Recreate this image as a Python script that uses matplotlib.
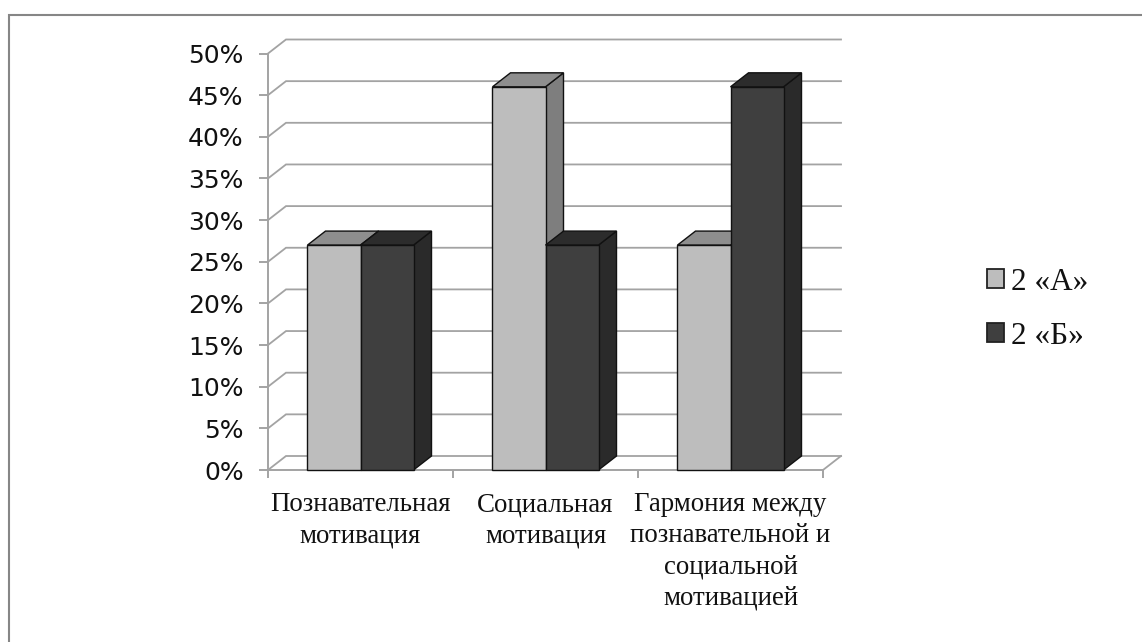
import matplotlib
matplotlib.use("Agg")
import matplotlib.pyplot as plt
from matplotlib.lines import Line2D
from matplotlib.patches import Polygon, Patch

categories = ["Познавательная\nмотивация", "Социальная\nмотивация",
              "Гармония между\nпознавательной и\nсоциальной\nмотивацией"]
series_names = ["2 «А»", "2 «Б»"]
values_a = [27, 46, 27]
values_b = [27, 27, 46]
y_ticks = list(range(0, 51, 5))
y_labels = [f"{v}%" for v in y_ticks]

W, H = 1142, 642
fig = plt.figure(figsize=(W / 100, H / 100), dpi=100, facecolor="white")
fig.add_artist(Line2D([8.5 / W, 8.5 / W, 1], [0, 1 - 14.5 / H, 1 - 14.5 / H], transform=fig.transFigure,
                      color="#868686", lw=1.5, solid_joinstyle="miter"))

x0, x1, y0, y50 = 268.0, 823.0, 470.0, 53.5
ax = fig.add_axes([x0 / W, 1 - y0 / H, (x1 - x0) / W, (y0 - y50) / H])
ax.set_xlim(0, 3)
ax.set_ylim(0, 50)
ax.patch.set_visible(False)

GRID = "#a3a3a3"
dx = 18.0 / ((x1 - x0) / 3)
dy = 14.0 / ((y0 - y50) / 50)

for s in ("top", "right"):
    ax.spines[s].set_visible(False)
for s in ("left", "bottom"):
    ax.spines[s].set_color(GRID)
    ax.spines[s].set_linewidth(1.4)

# back wall grid lines and floor
for v in y_ticks:
    ax.plot([0, dx, 3 + dx], [v, v + dy, v + dy], color=GRID, lw=1.3, clip_on=False, zorder=1,
            solid_joinstyle="miter")
ax.plot([3, 3 + dx], [0, dy], color=GRID, lw=1.3, clip_on=False, zorder=1)

# ticks
ax.set_yticks(y_ticks, y_labels, fontfamily="DejaVu Sans", fontsize=18, color="#111111")
ax.tick_params(axis="y", length=6.5, width=1.4, color=GRID, pad=11)
ax.set_xticks([0, 1, 2, 3], minor=True)
ax.tick_params(axis="x", which="minor", length=6, width=1.4, color=GRID)
ax.set_xticks([0.5, 1.5, 2.5], categories, fontfamily="Liberation Serif", fontsize=19.4,
              linespacing=1.32, color="#111111")
ax.tick_params(axis="x", which="major", length=0, pad=16)


def bar3d(left, width, val, front, top, side, z):
    kw = dict(ec="#111111", lw=1.0, clip_on=False, zorder=z, joinstyle="miter")
    r = left + width
    ax.add_patch(Polygon([(r, 0), (r + dx, dy), (r + dx, val + dy), (r, val)], fc=side, **kw))
    ax.add_patch(Polygon([(left, val), (left + dx, val + dy), (r + dx, val + dy), (r, val)], fc=top, **kw))
    ax.add_patch(Polygon([(left, 0), (r, 0), (r, val), (left, val)], fc=front, **kw))


bw = 0.2865
for i, (a, b) in enumerate(zip(values_a, values_b)):
    c = i + 0.5
    bar3d(c - bw, bw, a, "#bdbdbd", "#8e8e8e", "#7e7e7e", 3)
    bar3d(c, bw, b, "#3f3f3f", "#2c2c2c", "#2a2a2a", 4)

handles = [Patch(fc="#bdbdbd", ec="#222222", lw=1.3), Patch(fc="#3f3f3f", ec="#222222", lw=1.3)]
fig.legend(handles, series_names, loc="center left", bbox_to_anchor=(959 / W, 1 - 309 / H),
           frameon=False, prop={"family": "Liberation Serif", "size": 22.5}, handlelength=0.54,
           handleheight=0.54, handletextpad=0.22, labelspacing=0.8, labelcolor="#111111")

fig.savefig("out.png", dpi=100)
